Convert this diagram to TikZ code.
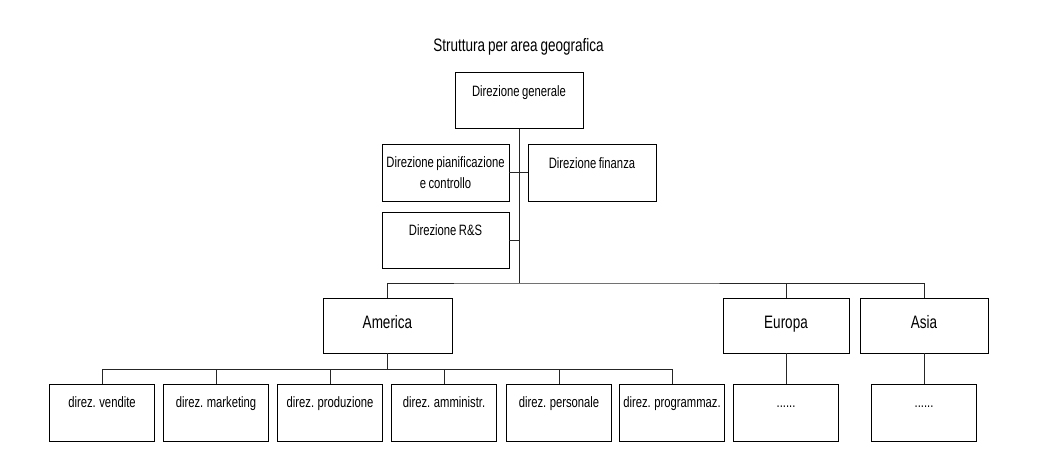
\documentclass[tikz,border=0pt]{standalone}
\usepackage{fontspec}
\setmainfont[FakeStretch=0.75, WordSpace=0.8]{Liberation Sans}
\begin{document}
\begin{tikzpicture}[x=1pt, y=-1pt, font=\fontsize{15}{21}\selectfont, line width=0.9pt,
  orgbox/.style={draw, rectangle, inner sep=0pt, minimum width=105pt, text height=23.5pt, text depth=33.5pt},
  areabox/.style={draw, rectangle, inner sep=0pt, font=\fontsize{18}{22}\selectfont, text height=30pt, text depth=25pt},
  headbox/.style={draw, rectangle, inner sep=0pt, minimum width=127pt, text height=24pt, text depth=32pt},
  link/.style={black!85}]

\useasboundingbox (0,0) rectangle (1050,475);

% --- TITLE ---
\node[font=\fontsize{18}{22}\selectfont, anchor=base] (title) at (518.5, 51.7) {Struttura per area geografica};

% --- TOP: direzione generale and staff ---
\node[headbox, minimum width=128pt] (gen) at (519, 100.5) {Direzione generale};
\node[draw, inner sep=0pt, minimum width=127pt, minimum height=57pt, align=center] (pian) at (445.5, 172.5) {Direzione pianificazione\\e controllo};
\node[headbox, minimum width=128pt, text depth=33pt] (fin) at (592, 172.5) {Direzione finanza};
\node[headbox, text height=23pt, text depth=33pt] (rs) at (445.5, 240) {Direzione R\&S};

\coordinate (busT) at (519, 283);
\draw[link] (gen.south) -- (busT);
\draw[link] (pian.east) -- (fin.west);
\draw[link] (rs.east) -- (rs.east -| gen.south);

% --- AREAS ---
\node[areabox, minimum width=129pt] (ame) at (387.5, 325.5) {America};
\node[areabox, minimum width=126pt] (eur) at (786, 325.5) {Europa};
\node[areabox, minimum width=128pt] (asia) at (924, 325.5) {Asia};

\draw[link] (ame.north) |- (busT) -| (asia.north);
\draw[link] (eur.north) -- (eur.north |- busT);

% --- America: direzioni funzionali ---
\coordinate (busA) at (387.5, 369);
\draw[link] (ame.south) -- (busA);
\foreach \x/\name/\txt in {102/vend/direz. vendite, 216/mark/direz. marketing, 330/prod/direz. produzione,
    444/amm/direz. amministr., 559/pers/direz. personale, 672/progr/direz. programmaz.} {
  \node[orgbox] (\name) at (\x, 412.5) {\txt};
  \draw[link] (\name.north) -- (\name.north |- busA);
}
\draw[link] (vend.north |- busA) -- (progr.north |- busA);

% --- Europa and Asia ---
\node[orgbox] (eursub) at (786, 412.5) {......};
\node[orgbox] (asiasub) at (924, 412.5) {......};
\draw[link] (eur.south) -- (eursub.north);
\draw[link] (asia.south) -- (asiasub.north);

\end{tikzpicture}
\end{document}
